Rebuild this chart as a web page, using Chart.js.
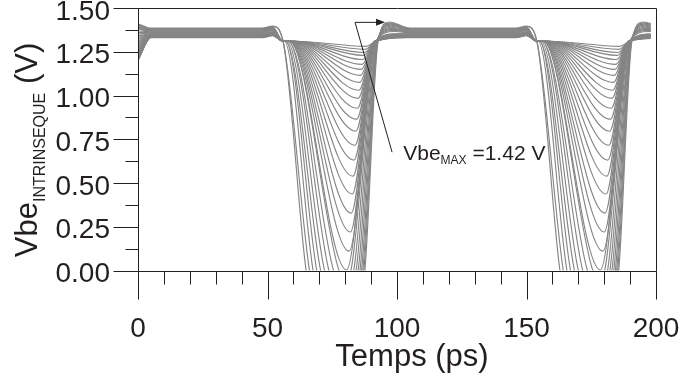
<!DOCTYPE html>
<html>
<head>
<meta charset="utf-8">
<script src="https://cdn.jsdelivr.net/npm/chart.js@4.4.0/dist/chart.umd.min.js"></script>
<style>
  html, body { margin: 0; padding: 0; background: #fff; }
</style>
</head>
<body>
<canvas id="chart-vbe" width="681" height="376"></canvas>
<script>
// 31 curves of the sweep. 0..8 go below zero, 9 just touches zero, 10..30 are the U shaped ones.
// Times in ps, voltages in V (first pulse; the second one repeats it).
var startValue = [1.41, 1.405, 1.40, 1.395, 1.39, 1.385, 1.38, 1.37, 1.36, 1.35, 1.34,
  1.33, 1.32, 1.31, 1.30, 1.29, 1.28, 1.27, 1.26, 1.25, 1.245, 1.24, 1.235, 1.23, 1.225,
  1.22, 1.215, 1.21, 1.205, 1.20, 1.20];
var plateauValue = [1.385, 1.382, 1.379, 1.376, 1.373, 1.370, 1.367, 1.364, 1.361, 1.358,
  1.352, 1.351, 1.350, 1.349, 1.347, 1.346, 1.345, 1.344, 1.343, 1.342, 1.341, 1.340,
  1.339, 1.338, 1.337, 1.336, 1.335, 1.334, 1.333, 1.332, 1.330];
var leaveTime = [56, 56, 56.5, 57, 57, 57.5, 58, 58, 58.5, 58.5, 58.6, 58.7, 58.8, 58.9,
  59, 59.1, 59.2, 59.3, 59.4, 59.5, 59.6, 59.7, 59.8, 59.9, 60, 60.1, 60.2, 60.3, 60.4,
  60.5, 60.6];
var zeroDown = [64.9, 66.2, 67.6, 69.0, 70.5, 72.0, 73.7, 75.5, 77.6];
var minTime = [76, 76.5, 77, 77.5, 78, 78.5, 79, 79.5, 80, 80.5, 81.5, 82, 82.3, 82.7,
  83, 83.4, 83.8, 84.1, 84.4, 84.7, 85, 85.3, 85.6, 85.9, 86.2, 86.5, 86.8, 87.1, 87.4,
  87.7, 88];
var minValue = [-0.8, -0.7, -0.6, -0.5, -0.4, -0.3, -0.2, -0.12, -0.05, 0.003, 0.111,
  0.220, 0.328, 0.437, 0.539, 0.631, 0.716, 0.796, 0.864, 0.927, 0.984, 1.030, 1.075,
  1.115, 1.149, 1.178, 1.206, 1.229, 1.246, 1.264, 1.281];
var zeroUp = [87.6, 87.2, 86.8, 86.3, 85.7, 85.0, 84.2, 83.3, 82.2];
var topTime = [92.7, 92.6, 92.5, 92.4, 92.3, 92.2, 92.1, 92.0, 91.9, 91.8, 91.8, 91.7,
  91.6, 91.5, 91.5, 91.4, 91.4, 91.4, 91.4, 91.4, 91.4, 91.5, 91.5, 91.5, 91.6, 91.6,
  91.6, 91.7, 91.7, 91.8, 91.8];
var peakTime = [97, 97.2, 97.4, 97.6, 97.8, 98, 98.3, 98.6, 99, 99.3, 99.6, 99.9, 100.2,
  100.5, 100.8, 101, 101.2, 101.4, 101.6, 101.8, 102, 102.2, 102.4, 102.6, 102.8, 103,
  103.2, 103.4, 103.6, 103.8, 104];
var peakValue = [1.42, 1.414, 1.408, 1.402, 1.396, 1.39, 1.384, 1.378, 1.372, 1.366];

var dipLevel = 1.31;   // where the curves sit right after the falling edge
var bump = 0.012;      // small rise just before the falling edge
var settleTime = 105;
var period = 98;       // second pulse starts 98 ps later
var lastTime = 198;    // the simulation stops a bit before the frame

var xTicks = [0, 50, 100, 150, 200];
var yTicks = [0, 0.25, 0.5, 0.75, 1.0, 1.25, 1.5];

var ink = '#231f20';
var curveColor = '#858585';
var fontFamily = '"Liberation Sans", Arial, Helvetica, sans-serif';

function addPulse(pts, k, off) {
  pts.push({ x: off + 48, y: plateauValue[k] });
  pts.push({ x: off + 52, y: plateauValue[k] + bump });
  pts.push({ x: off + 56, y: dipLevel });
  if (leaveTime[k] > 56) pts.push({ x: off + leaveTime[k], y: dipLevel });
  if (k < zeroDown.length) pts.push({ x: off + zeroDown[k], y: 0 });
  pts.push({ x: off + minTime[k], y: minValue[k] });
  if (k < zeroUp.length) pts.push({ x: off + zeroUp[k], y: 0 });
  pts.push({ x: off + topTime[k], y: dipLevel });
  if (k < peakValue.length) {
    pts.push({ x: off + peakTime[k], y: peakValue[k] });
    pts.push({ x: off + settleTime, y: plateauValue[k] });
  } else {
    pts.push({ x: off + peakTime[k], y: plateauValue[k] });
  }
}

function buildCurve(k) {
  var pts = [];
  pts.push({ x: 0, y: startValue[k] });
  pts.push({ x: 5, y: plateauValue[k] });
  addPulse(pts, k, 0);
  addPulse(pts, k, period);
  return pts;
}

var datasets = [];
for (var k = 0; k < startValue.length; k++) {
  datasets.push({
    data: buildCurve(k),
    borderColor: curveColor,
    borderWidth: 1.15,
    pointRadius: 0,
    fill: false,
    cubicInterpolationMode: 'monotone'
  });
}

// curves stop at lastTime, the frame goes on to 200
var stopPlugin = {
  id: 'stopAt',
  beforeDatasetsDraw: function (chart) {
    var a = chart.chartArea;
    var xr = chart.scales.x.getPixelForValue(lastTime);
    chart.ctx.save();
    chart.ctx.beginPath();
    chart.ctx.rect(a.left - 2, a.top - 2, xr - a.left + 2, a.bottom - a.top + 4);
    chart.ctx.clip();
  },
  afterDatasetsDraw: function (chart) {
    chart.ctx.restore();
  }
};

var framePlugin = {
  id: 'frame',
  afterDraw: function (chart) {
    var ctx = chart.ctx;
    var a = chart.chartArea;
    var xs = chart.scales.x, ys = chart.scales.y;
    var L = Math.round(a.left) + 0.5, R = Math.round(a.right) + 0.5;
    var T = Math.round(a.top) + 0.5, B = Math.round(a.bottom) + 0.5;

    ctx.save();
    ctx.strokeStyle = ink;
    ctx.lineWidth = 1;
    ctx.beginPath();
    ctx.moveTo(L, T); ctx.lineTo(R, T); ctx.lineTo(R, B); ctx.lineTo(L, B); ctx.closePath();

    // y ticks, long ones at the labels, short ones between
    for (var i = 0; i < yTicks.length; i++) {
      var py = Math.round(ys.getPixelForValue(yTicks[i])) + 0.5;
      ctx.moveTo(L - 25, py); ctx.lineTo(L, py);
      if (i < yTicks.length - 1) {
        var pm = Math.round(ys.getPixelForValue((yTicks[i] + yTicks[i + 1]) / 2)) + 0.5;
        ctx.moveTo(L - 13, pm); ctx.lineTo(L, pm);
      }
    }
    // x ticks, every 10 ps with the long ones at the labels
    for (var t = 0; t <= 200; t += 10) {
      var px = Math.round(xs.getPixelForValue(t)) + 0.5;
      var len = (t % 50 === 0) ? 28 : 13;
      ctx.moveTo(px, B); ctx.lineTo(px, B + len);
    }
    ctx.stroke();

    // annotation : arrow to the overshoot and its label
    var ax0 = xs.getPixelForValue(83.8), ay0 = ys.getPixelForValue(1.418);
    var ax1 = xs.getPixelForValue(95.4);
    var lx = xs.getPixelForValue(98.1), ly = ys.getPixelForValue(0.676);
    ctx.beginPath();
    ctx.moveTo(lx, ly); ctx.lineTo(ax0, ay0); ctx.lineTo(ax1 - 7, ay0);
    ctx.stroke();
    ctx.fillStyle = ink;
    ctx.beginPath();
    ctx.moveTo(ax1, ay0); ctx.lineTo(ax1 - 9, ay0 - 3.5); ctx.lineTo(ax1 - 9, ay0 + 3.5);
    ctx.closePath();
    ctx.fill();

    ctx.textBaseline = 'alphabetic';
    ctx.textAlign = 'left';
    var tx = xs.getPixelForValue(102.4), ty = ys.getPixelForValue(0.63);
    ctx.font = '21px ' + fontFamily;
    ctx.fillText('Vbe', tx, ty);
    tx += ctx.measureText('Vbe').width;
    ctx.font = '12px ' + fontFamily;
    ctx.fillText('MAX', tx, ty + 4);
    tx += ctx.measureText('MAX').width;
    ctx.font = '21px ' + fontFamily;
    ctx.fillText(' =1.42 V', tx, ty);

    // x title
    ctx.font = '31px ' + fontFamily;
    ctx.textAlign = 'center';
    ctx.fillText('Temps (ps)', 412, 366);

    // y title with its subscript, turned
    ctx.translate(37, 150);
    ctx.rotate(-Math.PI / 2);
    ctx.textAlign = 'left';
    ctx.font = '31px ' + fontFamily;
    var w1 = ctx.measureText('Vbe').width;
    var w3 = ctx.measureText(' (V)').width;
    ctx.font = '16px ' + fontFamily;
    var w2 = ctx.measureText('INTRINSEQUE').width;
    var x0 = -(w1 + w2 + w3) / 2;
    ctx.font = '31px ' + fontFamily;
    ctx.fillText('Vbe', x0, 0);
    ctx.font = '16px ' + fontFamily;
    ctx.fillText('INTRINSEQUE', x0 + w1, 8);
    ctx.font = '31px ' + fontFamily;
    ctx.fillText(' (V)', x0 + w1 + w2, 0);
    ctx.restore();
  }
};

var chart = new Chart(document.getElementById('chart-vbe').getContext('2d'), {
  type: 'line',
  data: { datasets: datasets },
  options: {
    responsive: false,
    devicePixelRatio: 1,
    animation: false,
    layout: { padding: { left: 0, top: 8, right: 25, bottom: 0 } },
    elements: { line: { capBezierPoints: false, tension: 0 } },
    plugins: { legend: { display: false }, tooltip: { enabled: false } },
    scales: {
      x: {
        type: 'linear',
        min: 0, max: 200,
        grid: { display: false, drawTicks: false },
        border: { display: false },
        afterFit: function (s) { s.height = 105.5; s.paddingLeft = 0; s.paddingRight = 0; },
        afterBuildTicks: function (s) { s.ticks = xTicks.map(function (v) { return { value: v }; }); },
        ticks: { padding: 42, color: ink, maxRotation: 0, font: { size: 28, family: fontFamily } }
      },
      y: {
        type: 'linear',
        min: 0, max: 1.5,
        grid: { display: false, drawTicks: false },
        border: { display: false },
        afterFit: function (s) { s.width = 138; s.paddingTop = 0; s.paddingBottom = 0; },
        afterBuildTicks: function (s) { s.ticks = yTicks.map(function (v) { return { value: v }; }); },
        ticks: {
          padding: 28, labelOffset: 4, color: ink,
          font: { size: 28, family: fontFamily },
          callback: function (v) { return Number(v).toFixed(2); }
        }
      }
    }
  },
  plugins: [stopPlugin, framePlugin]
});
</script>
</body>
</html>
